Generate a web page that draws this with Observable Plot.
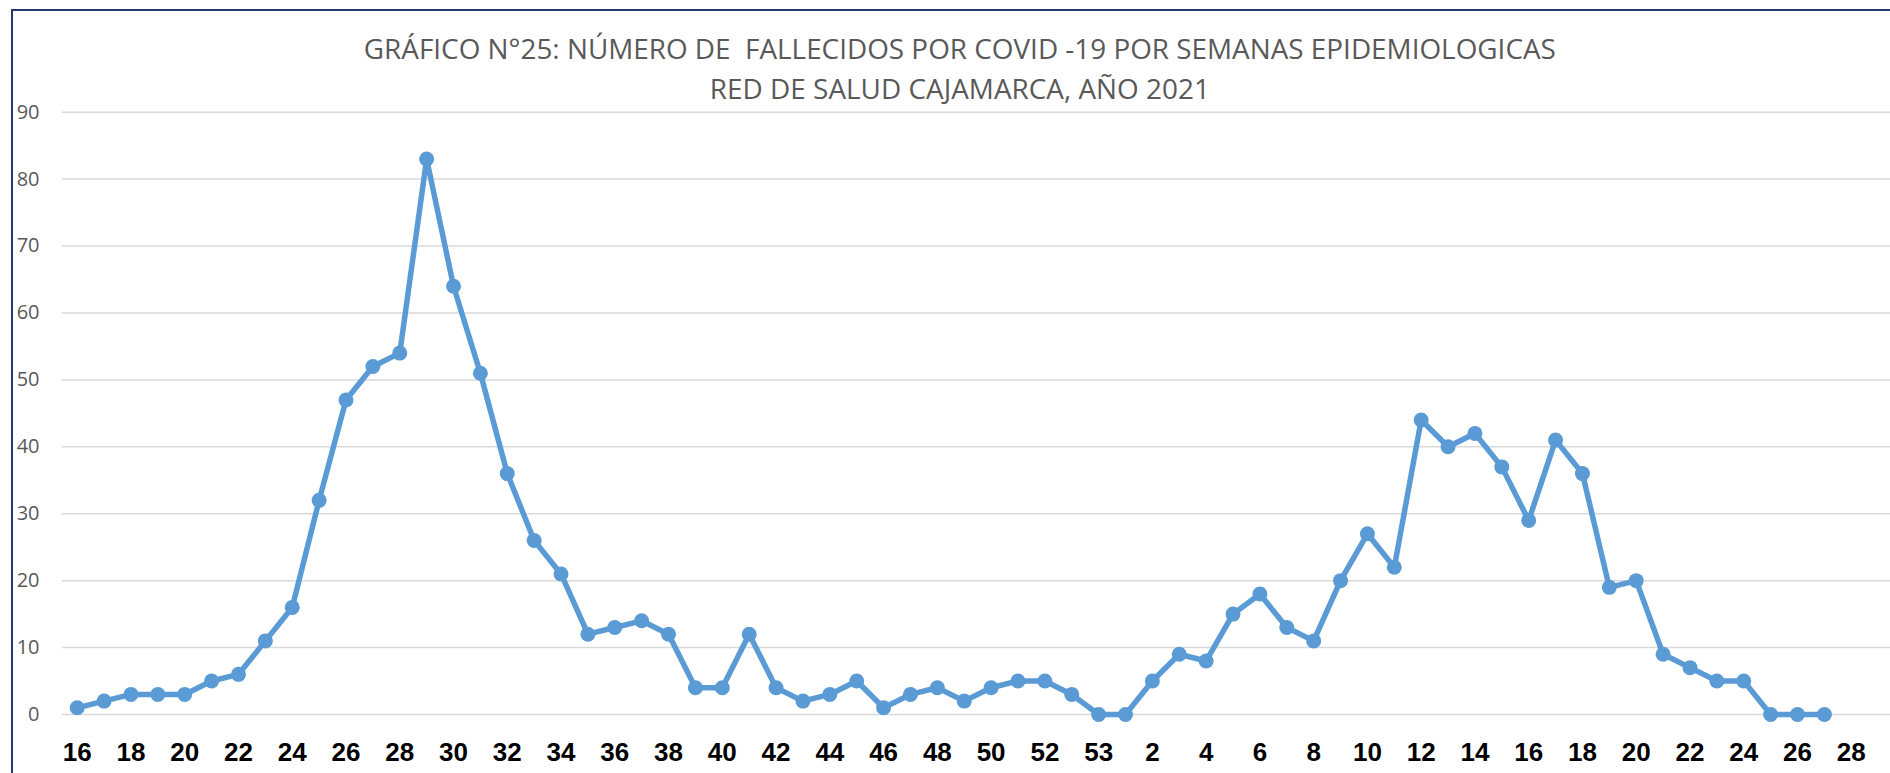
<!DOCTYPE html>
<html>
<head>
<meta charset="utf-8">
<script src="https://cdn.jsdelivr.net/npm/d3@7"></script>
<script src="https://cdn.jsdelivr.net/npm/@observablehq/plot@0.6"></script>
<style>
  html, body { margin: 0; padding: 0; background: #fff; width: 1890px; height: 773px; overflow: hidden; }
  #frame { position: absolute; left: 11px; top: 9px; width: 2100px; height: 1000px; border: 2.5px solid #1F3A70; box-sizing: border-box; }
  #chart { position: absolute; left: 0; top: 0; }
  .tline { position: absolute; left: 15px; width: 1890px; text-align: center; font-family: "Open Sans", sans-serif; font-size: 28px; color: #595959; white-space: pre; line-height: 40px; }
  .tline span { display: inline-block; transform-origin: 50% 50%; }
</style>
</head>
<body>
<div id="frame"></div>
<div id="chart"></div>
<div class="tline" id="t1" style="top:28px"><span>GRÁFICO N°25: NÚMERO DE  FALLECIDOS POR COVID -19 POR SEMANAS EPIDEMIOLOGICAS</span></div>
<div class="tline" id="t2" style="top:68px"><span>RED DE SALUD CAJAMARCA, AÑO 2021</span></div>
<script>
// Semanas epidemiológicas (etiquetas de categoría)
const semanas = ["16","17","18","19","20","21","22","23","24","25","26","27","28","29","30","31","32","33","34","35","36","37","38","39","40","41","42","43","44","45","46","47","48","49","50","51","52","53","53","1","2","3","4","5","6","7","8","9","10","11","12","13","14","15","16","17","18","19","20","21","22","23","24","25","26","27","28"];
// Número de fallecidos por semana (la última semana sin dato)
const fallecidos = [1,2,3,3,3,5,6,11,16,32,47,52,54,83,64,51,36,26,21,12,13,14,12,4,4,12,4,2,3,5,1,3,4,2,4,5,5,3,0,0,5,9,8,15,18,13,11,20,27,22,44,40,42,37,29,41,36,19,20,9,7,5,5,0,0,0,null];
const yTicks = [0,10,20,30,40,50,60,70,80,90];

const data = semanas.map((s, i) => ({i, semana: s, v: fallecidos[i]}));
const pts = data.filter(d => d.v != null);
const xTicks = d3.range(0, semanas.length, 2);
const color = "#5B9BD5";

const chart = Plot.plot({
  width: 1890,
  height: 773,
  marginLeft: 62,
  marginRight: 0,
  marginTop: 111.7,
  marginBottom: 59,
  style: { fontFamily: "Open Sans, sans-serif", background: "transparent", overflow: "visible" },
  x: { type: "linear", domain: [-0.547, 67.46], axis: null },
  y: { domain: [0, 90], axis: null },
  marks: [
    Plot.ruleY(yTicks, { stroke: "#d9d9d9", strokeWidth: 1.5 }),
    Plot.axisY({ ticks: yTicks, tickSize: 0, tickPadding: 23, fontSize: 20, fill: "#595959", label: null, anchor: "left" }),
    Plot.axisX({ ticks: xTicks, tickFormat: i => semanas[i], tickSize: 0, tickPadding: 28, fontSize: 26, fontWeight: "bold", fill: "#000", fontFamily: "Liberation Sans, Arial, sans-serif", label: null, anchor: "bottom" }),
    Plot.line(pts, { x: "i", y: "v", stroke: color, strokeWidth: 5.5, strokeLinejoin: "round" }),
    Plot.dot(pts, { x: "i", y: "v", r: 7.5, fill: color, stroke: null })
  ]
});
document.getElementById("chart").appendChild(chart);

// fit title widths to the reference
const targets = { t1: 1192, t2: 500 };
for (const id in targets) {
  const sp = document.querySelector("#" + id + " span");
  const w = sp.getBoundingClientRect().width;
  sp.style.transform = "scaleX(" + (targets[id] / w) + ")";
}
</script>
</body>
</html>
